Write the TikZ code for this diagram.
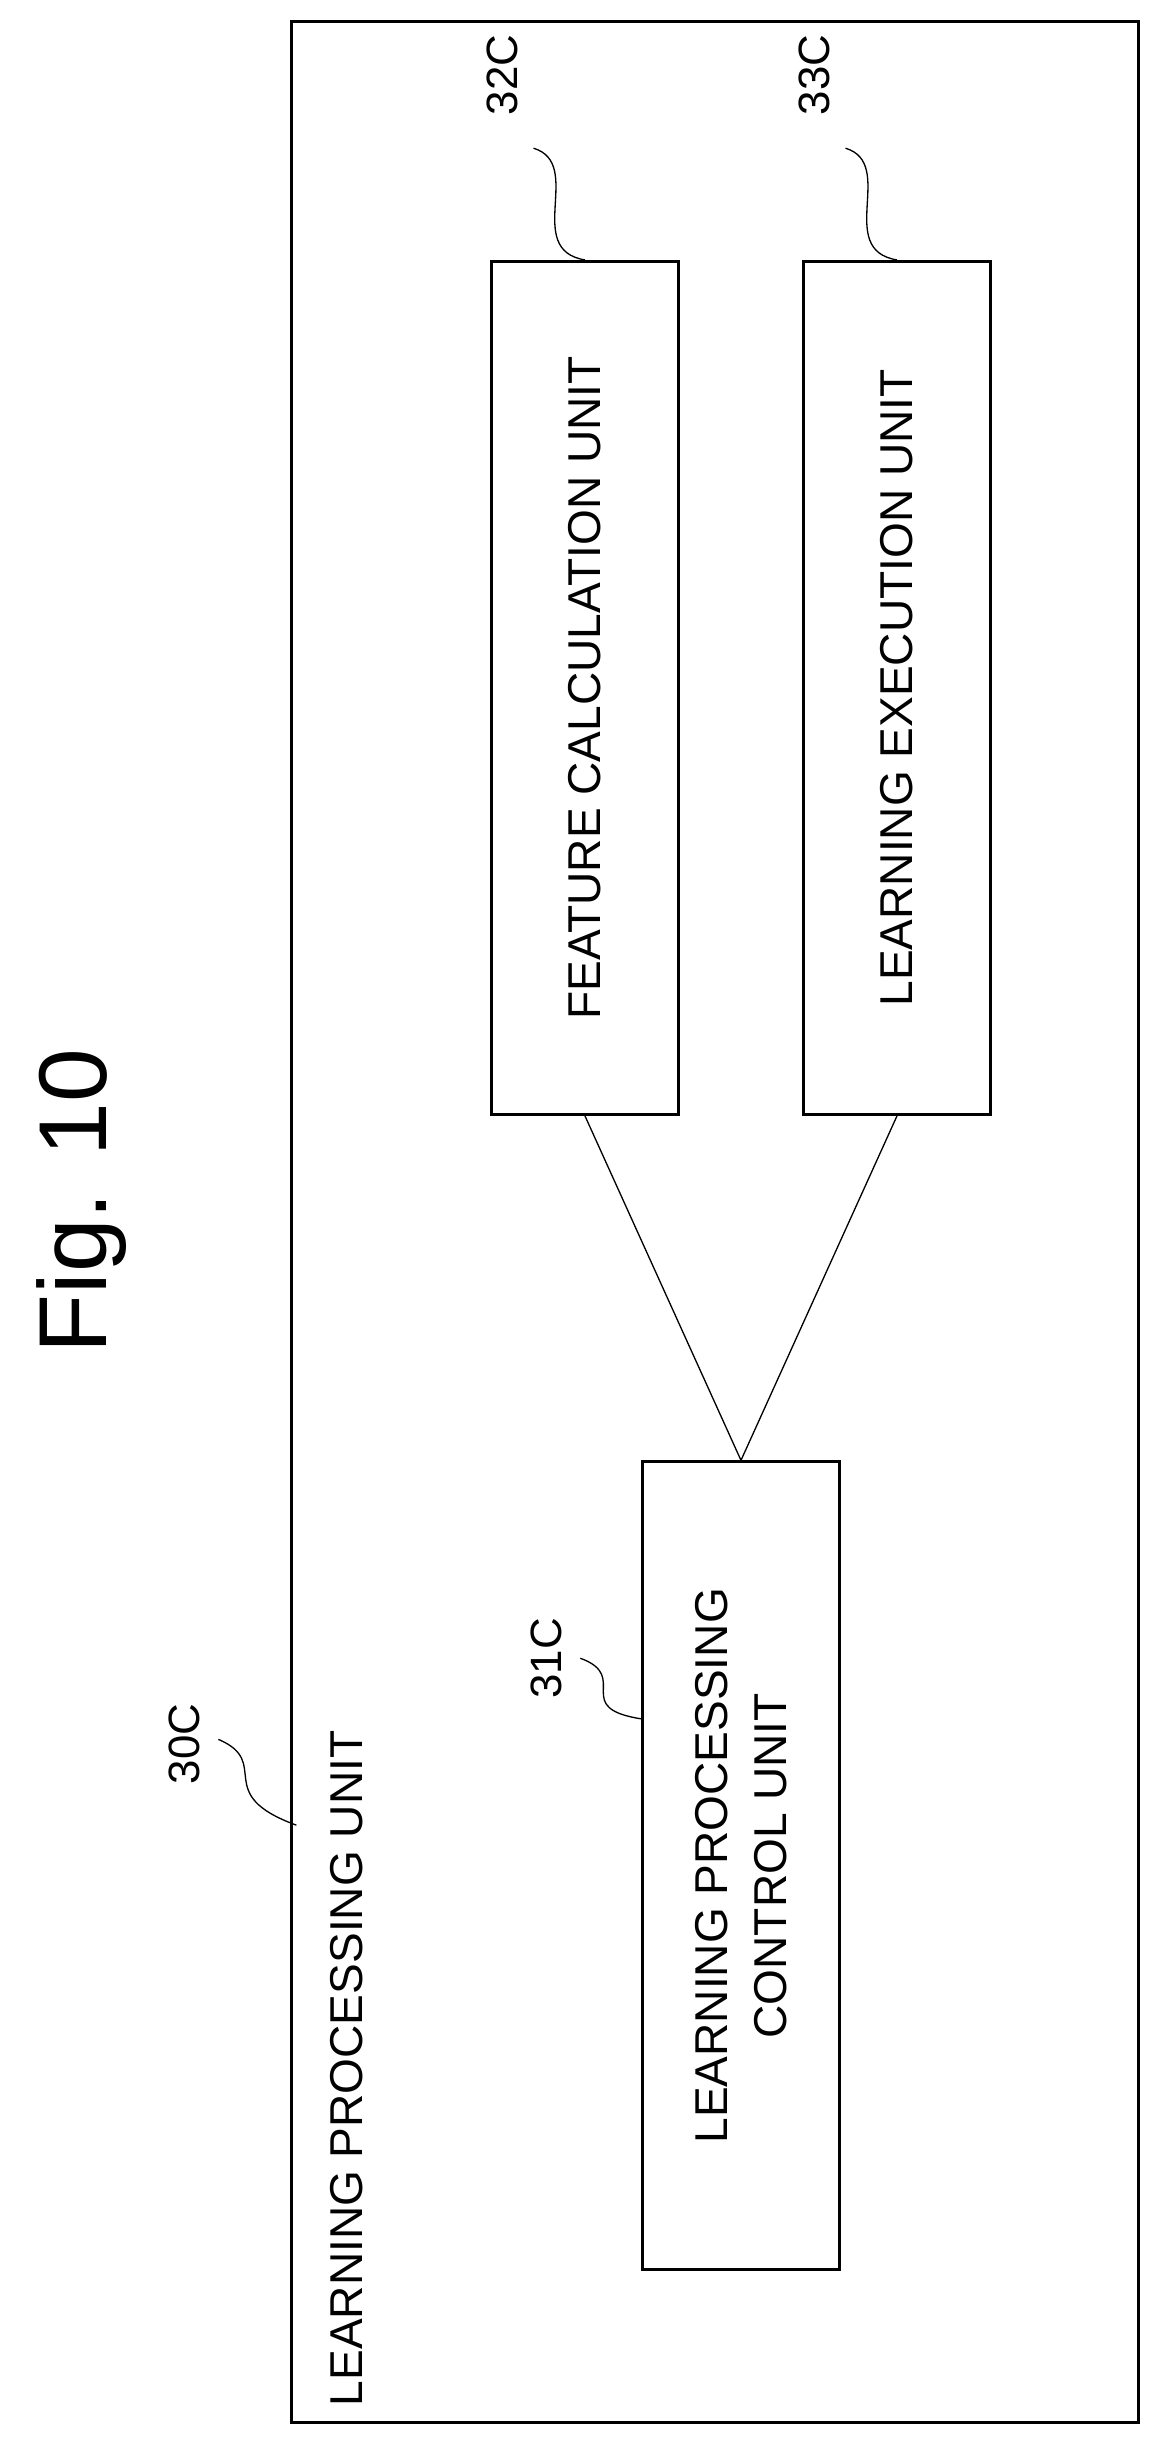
\documentclass[tikz,border=0pt]{standalone}
\usepackage{fontspec}
\setmainfont{Liberation Sans}
\usetikzlibrary{positioning}
\tikzset{unit/.style={draw,line width=2.5pt,rotate=90,align=center,inner sep=0pt,
  font=\fontsize{42}{54}\selectfont}}
\tikzset{ref/.style={rotate=90,font=\fontsize{40}{40}\selectfont}}
\tikzset{lead/.style={line width=1.2pt}}

\begin{document}
\begin{tikzpicture}[x=0.05cm,y=-0.05cm]
  \useasboundingbox (0,0) rectangle (745,1568);
  \node (fig) [rotate=90,font=\fontsize{88}{88}\selectfont] at (52,770) {Fig. 10};
  \draw[line width=2.5pt] (187,14) rectangle (730,1553);
  \node (lpu) [ref,font=\fontsize{42}{42}\selectfont,anchor=west] at (222,1545) {LEARNING PROCESSING UNIT};
  \node (feat) [unit,minimum width=27.35cm,minimum height=6cm] at (375,441) {FEATURE CALCULATION UNIT};
  \node (exec) [unit,minimum width=27.35cm,minimum height=6cm] at (575,441) {LEARNING EXECUTION UNIT};
  \node (ctrl) [unit,minimum width=25.9cm,minimum height=6.3cm] at (475,1196) {LEARNING PROCESSING\\CONTROL UNIT};
  \draw[lead] (feat.west) -- (ctrl.east);
  \draw[lead] (exec.west) -- (ctrl.east);
  % reference numerals
  \node (n30) [ref] at (118,1118) {30C};
  \node (n31) [ref] at (350,1063) {31C};
  \node (n32) [ref] at (322,48) {32C};
  \node (n33) [ref] at (522,48) {33C};
  \coordinate (e30) at (190,1170);
  \coordinate (e31) at (412,1102);
  \draw[lead] (140,1115) .. controls (175,1130) and (135,1150) .. (e30);
  \draw[lead] (372,1063) .. controls (405,1075) and (365,1095) .. (e31);
  \draw[lead] (342,95) .. controls (375,105) and (335,160) .. (feat.east);
  \draw[lead] (542,95) .. controls (575,105) and (535,160) .. (exec.east);
\end{tikzpicture}
\end{document}
